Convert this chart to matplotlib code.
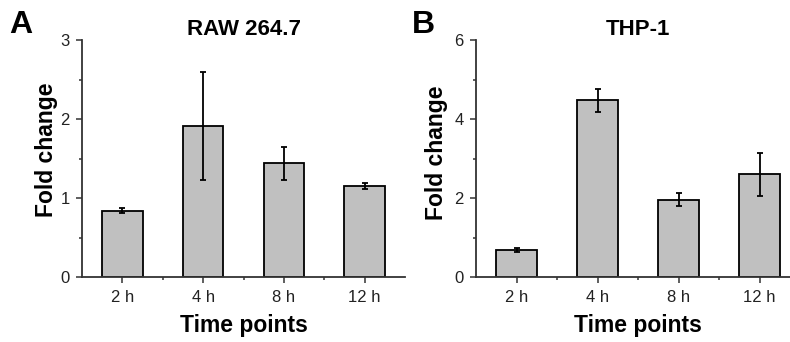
import matplotlib
matplotlib.use('Agg')
import matplotlib.pyplot as plt
from matplotlib.ticker import MultipleLocator

plt.rcParams['font.family'] = ['Liberation Sans', 'DejaVu Sans']

times = ['2 h', '4 h', '8 h', '12 h']
raw_mean = [0.84, 1.91, 1.44, 1.15]
raw_err = [0.03, 0.68, 0.21, 0.04]
thp_mean = [0.68, 4.47, 1.96, 2.60]
thp_err = [0.05, 0.30, 0.17, 0.55]

W, H = 790, 342
fig = plt.figure(figsize=(W / 100, H / 100), dpi=100)

axc = '#333333'


def panel(rect, mean, err, title, letter, letter_x, ymax, ystep, ylab_pos):
    ax = fig.add_axes([rect[0] / W, 1 - rect[3] / H, (rect[2] - rect[0]) / W, (rect[3] - rect[1]) / H])
    x = list(range(len(times)))
    ax.bar(x, mean, width=0.5, color='#c0c0c0', edgecolor='black', linewidth=1.3, zorder=2)
    ax.errorbar(x, mean, yerr=err, fmt='none', ecolor='black', elinewidth=1.3,
                capsize=2.5, capthick=1.3, zorder=3)
    ax.set_xlim(-0.5, 3.5)
    ax.set_ylim(0, ymax)
    ax.set_xticks(x)
    ax.set_xticklabels(times)
    ax.xaxis.set_minor_locator(plt.FixedLocator([0.5, 1.5, 2.5]))
    ax.yaxis.set_major_locator(MultipleLocator(ystep))
    ax.yaxis.set_minor_locator(MultipleLocator(ystep / 2))
    for s in ['top', 'right']:
        ax.spines[s].set_visible(False)
    for s in ['left', 'bottom']:
        ax.spines[s].set_color(axc)
        ax.spines[s].set_linewidth(1.3)
    ax.tick_params(which='major', length=4, width=1.1, color=axc, labelsize=12,
                   labelcolor='#222222', pad=5)
    ax.tick_params(which='minor', length=2.5, width=1.1, color=axc)
    ax.set_title(title, fontsize=16, fontweight='bold', pad=-4.5)
    ax.set_ylabel('Fold change', fontsize=16.5, fontweight='bold')
    ax.yaxis.set_label_coords(*ylab_pos)
    ax.set_xlabel('Time points', fontsize=16.5, fontweight='bold', labelpad=7)
    fig.text(letter_x / W, 1 - 33 / H, letter, fontsize=23, fontweight='bold')
    return ax


panel((82, 40, 405, 277), raw_mean, raw_err, 'RAW 264.7', 'A', 9, 3, 1, (-0.0745, 0.538))
panel((476, 40, 800, 277), thp_mean, thp_err, 'THP-1', 'B', 412, 6, 2, (-0.0866, 0.525))

fig.savefig('out.png', dpi=100)
